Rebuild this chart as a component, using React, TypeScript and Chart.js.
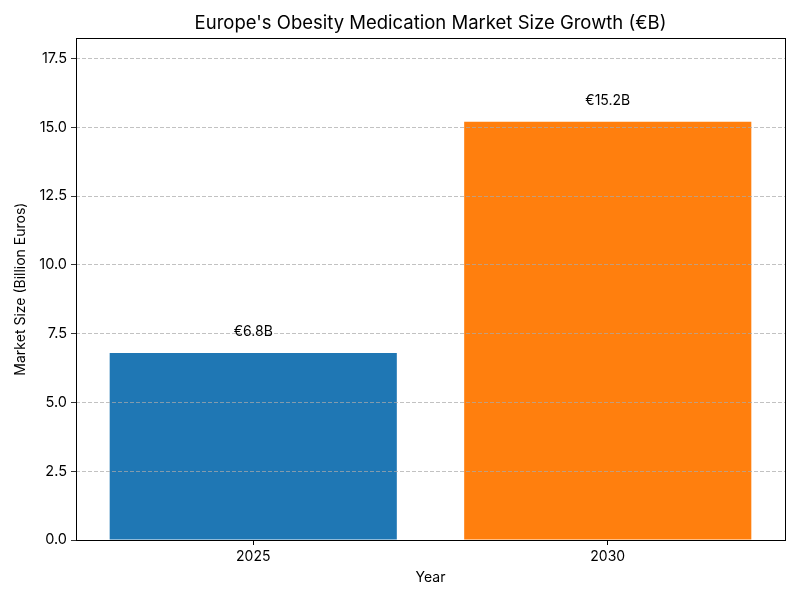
import React, { useEffect, useRef } from "react";
import { Chart, registerables } from "chart.js";

Chart.register(...registerables);

const categories = ["2025", "2030"];
const marketSize = [6.8, 15.2];
const barLabels = ["€6.8B", "€15.2B"];
const barColors = ["#1f77b4", "#ff7f0e"];
const yTicks = [0, 2.5, 5, 7.5, 10, 12.5, 15, 17.5];
const yMax = 18.24;

const FONT = "Inter, 'DejaVu Sans', sans-serif";

const framePlugin = {
  id: "frame",
  afterDraw(chart: any) {
    const { ctx, chartArea } = chart;
    const y = chart.scales.y;
    const meta = chart.getDatasetMeta(0);
    ctx.save();
    ctx.fillStyle = "#000";
    ctx.font = `14px ${FONT}`;
    ctx.textAlign = "center";
    ctx.textBaseline = "bottom";
    meta.data.forEach((bar: any, i: number) => {
      const py = y.getPixelForValue(marketSize[i] + 0.5);
      ctx.fillText(barLabels[i], bar.x, py);
    });
    ctx.strokeStyle = "#000";
    ctx.lineWidth = 1;
    ctx.setLineDash([]);
    ctx.strokeRect(
      Math.round(chartArea.left) + 0.5,
      Math.round(chartArea.top) + 0.5,
      Math.round(chartArea.right - chartArea.left),
      Math.round(chartArea.bottom - chartArea.top)
    );
    ctx.restore();
  },
};

export default function App() {
  const ref = useRef<HTMLCanvasElement | null>(null);
  useEffect(() => {
    document.body.style.margin = "0";
    const chart = new Chart(ref.current!, {
      type: "bar",
      data: {
        labels: categories,
        datasets: [
          {
            data: marketSize,
            backgroundColor: barColors,
            borderWidth: 0,
            barPercentage: 0.81,
            categoryPercentage: 1,
          },
        ],
      },
      plugins: [framePlugin],
      options: {
        animation: false,
        responsive: false,
        layout: { padding: { left: 0, right: 15, top: 0, bottom: 0 } },
        plugins: {
          legend: { display: false },
          tooltip: { enabled: false },
          title: {
            display: true,
            fullSize: false,
            text: "Europe's Obesity Medication Market Size Growth (€B)",
            color: "#000",
            font: { family: FONT, size: 18.5, weight: "normal" },
            padding: { top: 12, bottom: 4 },
          },
        },
        scales: {
          x: {
            grid: {
              display: true,
              drawOnChartArea: false,
              drawTicks: true,
              offset: false,
              tickLength: 5,
              tickColor: "#000",
            },
            border: { display: false },
            ticks: {
              color: "#000",
              font: { family: FONT, size: 14 },
              padding: 3,
            },
            title: {
              display: true,
              text: "Year",
              color: "#000",
              font: { family: FONT, size: 14 },
              padding: { top: 0, bottom: 14 },
            },
            afterFit(scale: any) {
              scale.height = 60;
            },
          },
          y: {
            min: 0,
            max: yMax,
            afterBuildTicks(scale: any) {
              scale.ticks = yTicks.map((v) => ({ value: v }));
            },
            grid: {
              color: "rgba(170,170,170,0.9)",
              lineWidth: 0.8,
              tickColor: "#000",
              tickLength: 5,
              tickBorderDash: [],
              z: 1,
            },
            border: { display: false, dash: [4, 2] },
            ticks: {
              color: "#000",
              font: { family: FONT, size: 14.5 },
              padding: 4,
              callback: (v: any) => Number(v).toFixed(1),
            },
            title: {
              display: true,
              text: "Market Size (Billion Euros)",
              color: "#000",
              font: { family: FONT, size: 14 },
              padding: { top: 12, bottom: 0 },
            },
            afterFit(scale: any) {
              scale.width = 76;
            },
          },
        },
      },
    });
    return () => chart.destroy();
  }, []);
  return <canvas ref={ref} width={800} height={600} style={{ display: "block" }} />;
}
